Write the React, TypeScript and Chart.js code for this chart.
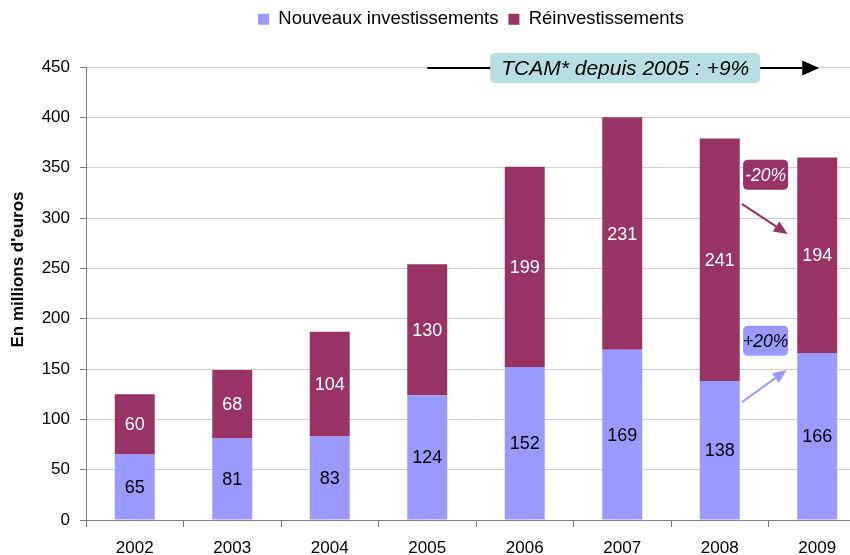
import React, { useEffect, useRef } from "react";
import { Chart, registerables } from "chart.js";

Chart.register(...registerables);

const years = ["2002", "2003", "2004", "2005", "2006", "2007", "2008", "2009"];
const nouveaux = [65, 81, 83, 124, 152, 169, 138, 166];
const reinvest = [60, 68, 104, 130, 199, 231, 241, 194];
const yTicks = [0, 50, 100, 150, 200, 250, 300, 350, 400, 450];

const yTitle = "En millions d'euros";
const tcamText = "TCAM* depuis 2005 : +9%";
const tcamFrom = 3; // 2005
const tcamTo = 7; // 2009
const tcamValue = 450;

const FONT = "'Liberation Sans', Arial, sans-serif";
const BLUE = "#9999FF";
const PURPLE = "#993366";

function roundRect(ctx: CanvasRenderingContext2D, x: number, y: number, w: number, h: number, r: number) {
  ctx.beginPath();
  ctx.moveTo(x + r, y);
  ctx.lineTo(x + w - r, y);
  ctx.quadraticCurveTo(x + w, y, x + w, y + r);
  ctx.lineTo(x + w, y + h - r);
  ctx.quadraticCurveTo(x + w, y + h, x + w - r, y + h);
  ctx.lineTo(x + r, y + h);
  ctx.quadraticCurveTo(x, y + h, x, y + h - r);
  ctx.lineTo(x, y + r);
  ctx.quadraticCurveTo(x, y, x + r, y);
  ctx.closePath();
}

function arrow(ctx: CanvasRenderingContext2D, x1: number, y1: number, x2: number, y2: number, color: string, lw: number, hl: number, hw: number) {
  const a = Math.atan2(y2 - y1, x2 - x1);
  const bx = x2 - hl * Math.cos(a);
  const by = y2 - hl * Math.sin(a);
  ctx.strokeStyle = color;
  ctx.fillStyle = color;
  ctx.lineWidth = lw;
  ctx.beginPath();
  ctx.moveTo(x1, y1);
  ctx.lineTo(bx, by);
  ctx.stroke();
  ctx.beginPath();
  ctx.moveTo(x2, y2);
  ctx.lineTo(bx + (hw / 2) * Math.sin(a), by - (hw / 2) * Math.cos(a));
  ctx.lineTo(bx - (hw / 2) * Math.sin(a), by + (hw / 2) * Math.cos(a));
  ctx.closePath();
  ctx.fill();
}

const legendTweak = {
  id: "legendTweak",
  beforeUpdate(chart: any) {
    const lg = chart.legend;
    if (lg && !lg._patched) {
      const orig = lg.fit;
      lg.fit = function () {
        orig.call(this);
        this.height = 67;
      };
      lg._patched = true;
    }
  },
  afterLayout(chart: any) {
    const lg = chart.legend;
    if (lg) {
      lg.left += 38;
      lg.right += 38;
    }
  },
};

const overlay = {
  id: "overlay",
  afterDatasetsDraw(chart: any) {
    const ctx: CanvasRenderingContext2D = chart.ctx;
    const xs = chart.scales.x;
    const ys = chart.scales.y;
    const area = chart.chartArea;
    ctx.save();
    // value labels
    ctx.font = `18px ${FONT}`;
    ctx.textAlign = "center";
    ctx.textBaseline = "middle";
    chart.data.datasets.forEach((ds: any, di: number) => {
      const meta = chart.getDatasetMeta(di);
      meta.data.forEach((el: any, i: number) => {
        const p = el.getProps(["x", "y", "base"], true);
        ctx.fillStyle = di === 0 ? "#000000" : "#FFFFFF";
        ctx.fillText(String(ds.data[i]), p.x, (p.y + p.base) / 2 + 1);
      });
    });

    // y axis title
    ctx.save();
    ctx.translate(18.5, (area.top + area.bottom) / 2 - 24);
    ctx.rotate(-Math.PI / 2);
    ctx.font = `bold 17px ${FONT}`;
    ctx.fillStyle = "#000000";
    ctx.fillText(yTitle, 0, 0);
    ctx.restore();

    // TCAM arrow
    const xa = xs.getPixelForValue(tcamFrom);
    const xb = xs.getPixelForValue(tcamTo);
    const yt = ys.getPixelForValue(tcamValue) + 1;
    arrow(ctx, xa, yt, xb + 2, yt, "#000000", 2, 17, 15);
    ctx.font = `italic 21px ${FONT}`;
    const tw = ctx.measureText(tcamText).width;
    const cx = (xa + xb) / 2 + 3;
    const bw = tw + 22;
    const bh = 30;
    ctx.fillStyle = "#B7DFE3";
    roundRect(ctx, cx - bw / 2, yt - bh / 2, bw, bh, 5);
    ctx.fill();
    ctx.fillStyle = "#000000";
    ctx.textAlign = "center";
    ctx.fillText(tcamText, cx, yt + 1);

    // small labels
    const labels = [
      { text: "-20%", x: 6.47, v: 343, fill: PURPLE, color: "#FFFFFF" },
      { text: "+20%", x: 6.47, v: 178, fill: BLUE, color: "#000000" },
    ];
    ctx.font = `italic 17.5px ${FONT}`;
    labels.forEach((l) => {
      const px = xs.getPixelForValue(l.x);
      const py = ys.getPixelForValue(l.v);
      const w = 45;
      const h = 30;
      ctx.fillStyle = l.fill;
      roundRect(ctx, px - w / 2, py - h / 2, w, h, 5);
      ctx.fill();
      ctx.fillStyle = l.color;
      ctx.fillText(l.text, px, py + 1);
    });
    const arrows = [
      { x1: 6.226, v1: 314, x2: 6.697, v2: 284, color: PURPLE },
      { x1: 6.226, v1: 117, x2: 6.687, v2: 149, color: BLUE },
    ];
    arrows.forEach((a) => {
      arrow(
        ctx,
        xs.getPixelForValue(a.x1),
        ys.getPixelForValue(a.v1),
        xs.getPixelForValue(a.x2),
        ys.getPixelForValue(a.v2),
        a.color,
        2,
        14,
        12
      );
    });
    ctx.restore();
  },
};

export default function App() {
  const ref = useRef<HTMLCanvasElement>(null);
  useEffect(() => {
    if (!ref.current) return;
    const chart = new Chart(ref.current, {
      type: "bar",
      data: {
        labels: years,
        datasets: [
          { label: "Nouveaux investissements", data: nouveaux, backgroundColor: BLUE, barPercentage: 0.41, categoryPercentage: 1 },
          { label: "Réinvestissements", data: reinvest, backgroundColor: PURPLE, barPercentage: 0.41, categoryPercentage: 1 },
        ],
      },
      options: {
        responsive: false,
        animation: false,
        layout: { padding: { top: 0, right: 4, bottom: 0, left: 0 } },
        plugins: {
          legend: {
            position: "top",
            labels: {
              font: { family: FONT, size: 18.5 },
              color: "#000000",
              boxWidth: 11,
              boxHeight: 11,
              padding: 10,
            },
          },
          tooltip: { enabled: false },
        },
        scales: {
          x: {
            stacked: true,
            grid: { offset: true, drawOnChartArea: false, tickLength: 7, color: "#808080" },
            border: { color: "#808080", width: 1 },
            ticks: { font: { family: FONT, size: 17 }, color: "#000000", padding: 11 },
            afterFit: (s: any) => {
              s.height = 35;
            },
          },
          y: {
            stacked: true,
            min: 0,
            max: 450,
            afterBuildTicks: (s: any) => {
              s.ticks = yTicks.map((v) => ({ value: v }));
            },
            grid: { color: "#D0D0D0", tickLength: 6, tickColor: "#808080" },
            border: { color: "#808080", width: 1 },
            ticks: { font: { family: FONT, size: 17 }, color: "#000000", padding: 10 },
            title: { display: false },
            afterFit: (s: any) => {
              s.width = 86;
            },
          },
        },
      },
      plugins: [legendTweak, overlay],
    });
    return () => chart.destroy();
  }, []);
  return (
    <div style={{ position: "absolute", left: 0, top: 0, width: 850, height: 555, overflow: "hidden", background: "#fff" }}>
      <canvas ref={ref} width={870} height={555} style={{ display: "block" }} />
    </div>
  );
}
